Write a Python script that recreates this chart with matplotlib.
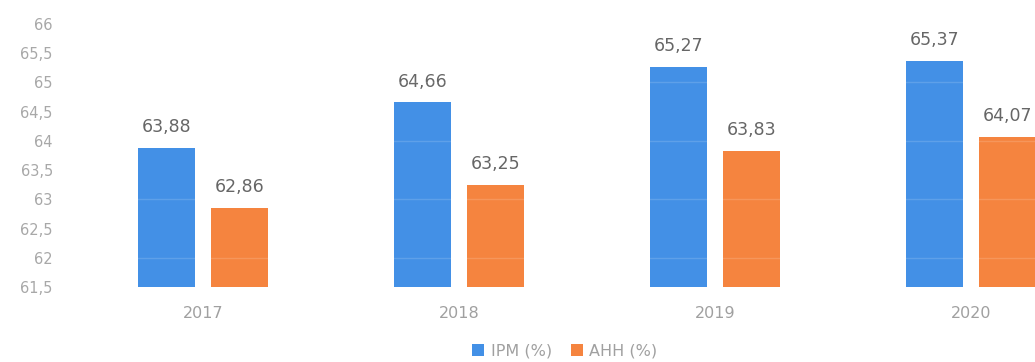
import matplotlib
matplotlib.use("Agg")
import matplotlib.pyplot as plt
import numpy as np

years = ["2017", "2018", "2019", "2020"]
ipm = [63.88, 64.66, 65.27, 65.37]
ahh = [62.86, 63.25, 63.83, 64.07]
y_ticks = [61.5, 62, 62.5, 63, 63.5, 64, 64.5, 65, 65.5, 66]

blue = "#4390E6"
orange = "#F5843F"

plt.rcParams["font.family"] = ["DejaVu Sans"]

fig = plt.figure(figsize=(10.35, 3.62), dpi=100)
W, H = 1035, 362
left, right_px = 75, 75 + 1024
top, bottom = 24, 287
ax = fig.add_axes([left / W, 1 - bottom / H, (right_px - left) / W, (bottom - top) / H])

x = np.arange(len(years))
bw = 0.222
off = 0.142
b1 = ax.bar(x - off, [v - 61.5 for v in ipm], bw, bottom=61.5, color=blue, label="IPM (%)", zorder=2)
b2 = ax.bar(x + off, [v - 61.5 for v in ahh], bw, bottom=61.5, color=orange, label="AHH (%)", zorder=2)

def fmt(v):
    return f"{v:.2f}".replace(".", ",")

for xi, v in zip(x - off, ipm):
    ax.text(xi, v + 0.2, fmt(v), ha="center", va="bottom", fontsize=12.5, color="#666666")
for xi, v in zip(x + off, ahh):
    ax.text(xi, v + 0.2, fmt(v), ha="center", va="bottom", fontsize=12.5, color="#666666")

# faint grid lines showing across the bars
for g in [62, 63, 64, 65]:
    ax.axhline(g, color="white", alpha=0.15, lw=1, zorder=3)

ax.set_xlim(-0.5, 3.5)
ax.set_ylim(61.5, 66)
ax.set_yticks(y_ticks)
ax.set_yticklabels([("%g" % t).replace(".", ",") for t in y_ticks])
ax.set_xticks(x)
ax.set_xticklabels(years)
ax.tick_params(axis="y", length=0, labelsize=10.5, labelcolor="#a8a8a8", pad=16)
ax.tick_params(axis="x", length=0, labelsize=11.5, labelcolor="#a0a0a0", pad=14)
for s in ax.spines.values():
    s.set_visible(False)

fig.legend(handles=[b1, b2], loc="center", bbox_to_anchor=(565 / W, 1 - 351 / H),
           ncol=2, frameon=False, fontsize=11.5, labelcolor="#a0a0a0",
           handlelength=0.75, handleheight=0.75, handletextpad=0.4, columnspacing=1.2)

fig.savefig("out.png", dpi=100)
